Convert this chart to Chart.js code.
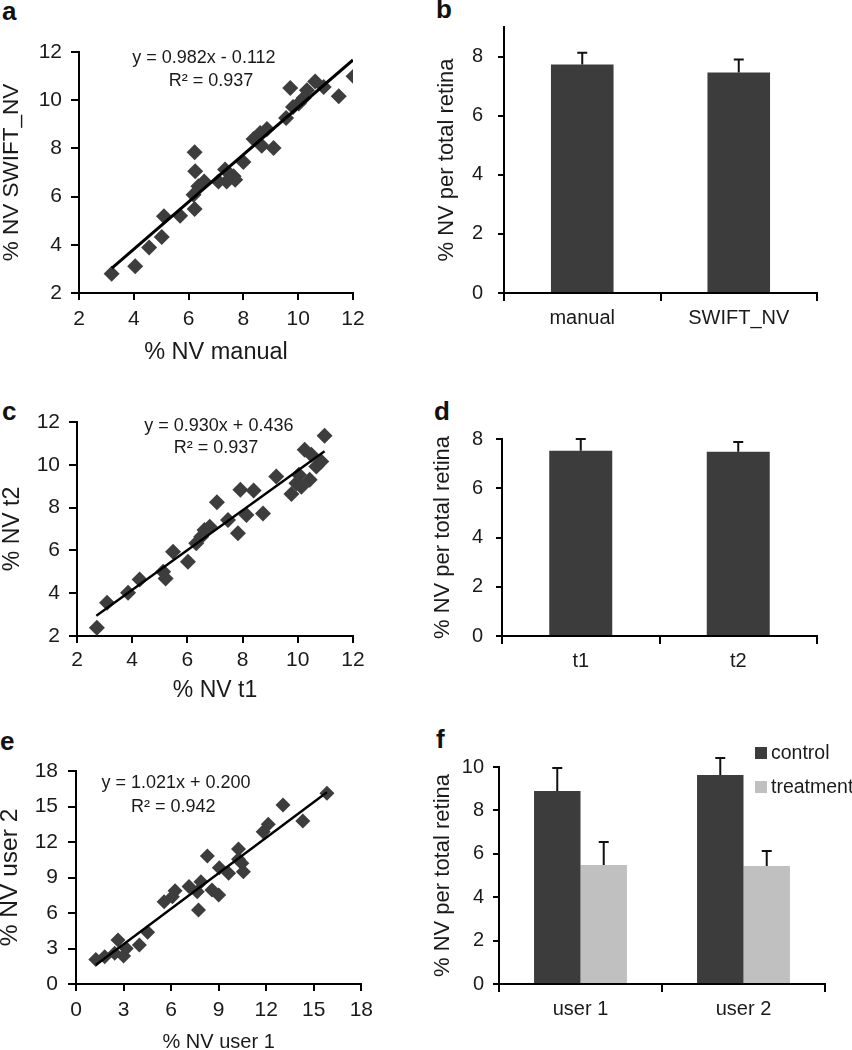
<!DOCTYPE html>
<html>
<head>
<meta charset="utf-8">
<script src="https://cdn.jsdelivr.net/npm/chart.js@4.4.0/dist/chart.umd.min.js"></script>
<style>
  body { margin: 0; background: #fff; width: 852px; height: 1050px; position: relative; overflow: hidden; font-family: "Liberation Sans", Arial, sans-serif; }
  .panel { position: absolute; }
  .tag { position: absolute; font-weight: bold; font-size: 26px; line-height: 1; color: #111; }
</style>
</head>
<body>
<div class="tag" style="left:2px;top:-2px">a</div>
<div class="tag" style="left:436px;top:-4px">b</div>
<div class="tag" style="left:2px;top:398px">c</div>
<div class="tag" style="left:434px;top:398px">d</div>
<div class="tag" style="left:0px;top:728px">e</div>
<div class="tag" style="left:436px;top:726px">f</div>

<div class="panel" style="left:0;top:0;width:372px;height:368px"><canvas id="chartA"></canvas></div>
<div class="panel" style="left:430px;top:0;width:422px;height:340px"><canvas id="chartB"></canvas></div>
<div class="panel" style="left:0;top:340px;width:372px;height:365px"><canvas id="chartC"></canvas></div>
<div class="panel" style="left:430px;top:340px;width:422px;height:360px"><canvas id="chartD"></canvas></div>
<div class="panel" style="left:0;top:700px;width:380px;height:350px"><canvas id="chartE"></canvas></div>
<div class="panel" style="left:430px;top:700px;width:422px;height:350px"><canvas id="chartF"></canvas></div>

<script>
// a: manual vs SWIFT_NV
const manualX = [3.19, 4.05, 4.56, 5.02, 5.10, 5.69, 6.22, 6.22, 6.24, 6.18, 6.36, 6.57, 7.09, 7.33, 7.39, 7.64, 7.70,
  8.00, 8.37, 8.67, 8.61, 8.86, 9.10, 9.56, 9.71, 9.81, 10.02, 10.20, 10.32, 10.62, 10.93, 11.48, 12.02];
const swiftY = [2.80, 3.11, 3.89, 4.32, 5.18, 5.21, 5.49, 7.84, 7.05, 6.08, 6.43, 6.63, 6.63, 7.12, 6.63, 6.84, 6.70,
  7.44, 8.39, 8.11, 8.64, 8.80, 8.02, 9.26, 10.51, 9.72, 9.86, 10.09, 10.41, 10.78, 10.55, 10.16, 10.99];
const fitAX = [3.2, 12.0];
const fitAY = [3.03, 11.67];

// c: t1 vs t2
const t1X = [2.72, 3.09, 3.85, 4.27, 5.12, 5.21, 5.48, 6.02, 6.32, 6.50, 6.62, 6.81, 7.07, 7.47, 7.83, 7.92, 8.14,
  8.40, 8.74, 9.22, 9.77, 9.95, 10.04, 10.25, 10.49, 10.43, 10.67, 10.85, 10.97, 10.13];
const t2Y = [2.39, 3.55, 4.02, 4.64, 5.00, 4.69, 5.94, 5.47, 6.33, 6.64, 6.95, 7.11, 8.25, 7.42, 6.80, 8.83, 7.66,
  8.80, 7.73, 9.45, 8.63, 9.14, 9.53, 10.70, 10.47, 9.30, 9.92, 10.16, 11.36, 8.98];
const fitCX = [2.7, 10.97];
const fitCY = [2.95, 10.63];

// e: user 1 vs user 2
const user1X = [1.25, 1.81, 2.65, 2.44, 3.00, 3.17, 4.00, 4.52, 5.56, 6.25, 6.08, 7.13, 7.65, 7.73, 7.88, 8.29, 8.58,
  9.00, 9.04, 9.63, 10.25, 10.46, 10.56, 10.25, 11.81, 12.13, 13.06, 14.31, 15.83];
const user2Y = [2.08, 2.31, 3.72, 2.59, 2.37, 3.01, 3.30, 4.37, 6.96, 7.89, 7.38, 8.23, 7.80, 6.25, 8.65, 10.82, 7.94,
  7.52, 9.83, 9.35, 11.41, 10.20, 9.49, 10.54, 12.87, 13.49, 15.13, 13.77, 16.11];
const fitEX = [1.25, 15.83];
const fitEY = [1.6, 16.2];

// bars
const methodLabels = ['manual', 'SWIFT_NV'];
const methodMeans = [7.73, 7.46];
const methodErr = [0.40, 0.44];

const timeLabels = ['t1', 't2'];
const timeMeans = [7.52, 7.48];
const timeErr = [0.48, 0.40];

const userLabels = ['user 1', 'user 2'];
const controlMeans = [8.89, 9.63];
const controlErr = [1.06, 0.79];
const treatmentMeans = [5.48, 5.44];
const treatmentErr = [1.06, 0.69];

// tick labels
const ticksA = [2, 4, 6, 8, 10, 12];
const ticksC = [2, 4, 6, 8, 10, 12];
const ticksE = [0, 3, 6, 9, 12, 15, 18];
const ticksB = [0, 2, 4, 6, 8];
const ticksD = [0, 2, 4, 6, 8];
const ticksF = [0, 2, 4, 6, 8, 10];

const INK = '#1a1a1a';
const DARK = '#3c3c3c';
const LIGHT = '#c0c0c0';
const FONT = '"Liberation Sans", Arial, sans-serif';

Chart.defaults.font.family = FONT;
Chart.defaults.color = INK;
Chart.defaults.animation = false;
Chart.defaults.plugins.legend.display = false;
Chart.defaults.plugins.tooltip.enabled = false;

const pairs = (xs, ys) => xs.map((x, i) => ({ x: x, y: ys[i] }));

// error bars (upper only) drawn from each dataset's errors array
const errorBars = {
  id: 'errorBars',
  afterDatasetsDraw(chart) {
    const ctx = chart.ctx, y = chart.scales.y;
    chart.data.datasets.forEach((ds, i) => {
      if (!ds.errors) return;
      chart.getDatasetMeta(i).data.forEach((bar, j) => {
        const top = y.getPixelForValue(ds.data[j] + ds.errors[j]);
        ctx.save();
        ctx.strokeStyle = '#111';
        ctx.lineWidth = 2;
        ctx.beginPath();
        ctx.moveTo(bar.x, bar.y);
        ctx.lineTo(bar.x, top);
        ctx.moveTo(bar.x - 5, top);
        ctx.lineTo(bar.x + 5, top);
        ctx.stroke();
        ctx.restore();
      });
    });
  }
};

// regression equation text
const fitLabel = {
  id: 'fitLabel',
  afterDatasetsDraw(chart, args, opts) {
    if (!opts.lines) return;
    const ctx = chart.ctx;
    ctx.save();
    ctx.font = opts.size + 'px ' + FONT;
    ctx.fillStyle = INK;
    ctx.textAlign = 'center';
    ctx.textBaseline = 'middle';
    opts.lines.forEach(l => {
      ctx.fillText(l.text, chart.scales.x.getPixelForValue(l.x), chart.scales.y.getPixelForValue(l.y));
    });
    ctx.restore();
  }
};

// legend for panel f, top right
const boxLegend = {
  id: 'boxLegend',
  afterDraw(chart) {
    const ctx = chart.ctx, area = chart.chartArea;
    ctx.save();
    ctx.font = '19.5px ' + FONT;
    ctx.textBaseline = 'middle';
    chart.data.datasets.forEach((ds, i) => {
      const cy = area.top - 14 + i * 34;
      const x0 = area.right - 70;
      ctx.fillStyle = ds.backgroundColor;
      ctx.fillRect(x0, cy - 6, 12, 12);
      ctx.fillStyle = INK;
      ctx.fillText(ds.label, x0 + 16, cy + 1);
    });
    ctx.restore();
  }
};

function axis(o) {
  return {
    type: o.type || 'linear',
    min: o.min,
    max: o.max,
    afterBuildTicks: o.ticks ? (s => { s.ticks = o.ticks.map(v => ({ value: v })); }) : undefined,
    afterFit: o.horizontal ? (s => { s.height = o.size; }) : (s => { s.width = o.size; }),
    grid: { offset: !!o.offset, drawOnChartArea: false, drawTicks: true, tickLength: o.tickLength || 7, color: '#000', lineWidth: 2 },
    border: { display: true, color: '#000', width: 2 },
    ticks: { color: INK, font: { size: o.tickSize }, padding: o.pad, autoSkip: false, maxRotation: 0 },
    title: { display: !!o.title, text: o.title || '', color: INK, font: { size: o.titleSize, lineHeight: 1 },
      padding: o.titlePad || { top: 0, bottom: 0 } }
  };
}

function scatterPanel(id, pts, fit, radius, fitWidth, pad, xAx, yAx, eq) {
  new Chart(document.getElementById(id), {
    type: 'scatter',
    data: {
      datasets: [
        { data: fit, showLine: true, borderColor: '#000', borderWidth: fitWidth, pointRadius: 0, order: 0 },
        { data: pts, pointStyle: 'rectRot', pointRadius: radius, backgroundColor: '#3d3d3d', borderWidth: 0, order: 1 }
      ]
    },
    options: {
      responsive: true,
      maintainAspectRatio: false,
      layout: { padding: pad },
      scales: { x: axis(xAx), y: axis(yAx) },
      plugins: { fitLabel: eq }
    },
    plugins: [fitLabel]
  });
}

function barPanel(id, labels, datasets, catPct, pad, xAx, yAx, extra) {
  new Chart(document.getElementById(id), {
    type: 'bar',
    data: { labels: labels, datasets: datasets },
    options: {
      responsive: true,
      maintainAspectRatio: false,
      layout: { padding: pad },
      datasets: { bar: { barPercentage: 1, categoryPercentage: catPct } },
      scales: { x: axis(xAx), y: axis(yAx) }
    },
    plugins: [errorBars].concat(extra || [])
  });
}

document.addEventListener('DOMContentLoaded', () => {
  // a
  scatterPanel('chartA', pairs(manualX, swiftY), pairs(fitAX, fitAY), 8, 3,
    { top: 52, right: 19, left: 0, bottom: 0 },
    { horizontal: true, min: 2, max: 12, ticks: ticksA, size: 75, tickSize: 21, pad: 7,
      title: '% NV manual', titleSize: 23.5, titlePad: { top: 0, bottom: 4 } },
    { min: 2, max: 12, ticks: ticksA, size: 79, tickSize: 21, pad: 9, tickLength: 8,
      title: '% NV SWIFT_NV', titleSize: 22.5, titlePad: { top: 1, bottom: 0 } },
    { size: 18, lines: [{ text: 'y = 0.982x - 0.112', x: 6.56, y: 11.75 }, { text: 'R\u00b2 = 0.937', x: 6.82, y: 10.8 }] });

  // c
  scatterPanel('chartC', pairs(t1X, t2Y), pairs(fitCX, fitCY), 8, 2.4,
    { top: 82, right: 19, left: 0, bottom: 0 },
    { horizontal: true, min: 2, max: 12, ticks: ticksC, size: 69, tickSize: 21, pad: 5,
      title: '% NV t1', titleSize: 23, titlePad: { top: 0, bottom: 3 } },
    { min: 2, max: 12, ticks: ticksC, size: 77, tickSize: 21, pad: 9, tickLength: 8,
      title: '% NV t2', titleSize: 23, titlePad: { top: 1, bottom: 0 } },
    { size: 18, lines: [{ text: 'y = 0.930x + 0.436', x: 7.14, y: 11.81 }, { text: 'R\u00b2 = 0.937', x: 7.04, y: 10.79 }] });

  // e
  scatterPanel('chartE', pairs(user1X, user2Y), pairs(fitEX, fitEY), 7.5, 2.4,
    { top: 71, right: 16, left: 0, bottom: 0 },
    { horizontal: true, min: 0, max: 18, ticks: ticksE, size: 66, tickSize: 21, pad: 7,
      title: '% NV user 1', titleSize: 20, titlePad: { top: 0, bottom: -2 } },
    { min: 0, max: 18, ticks: ticksE, size: 76, tickSize: 21, pad: 10, tickLength: 8,
      title: '% NV user 2', titleSize: 24.5, titlePad: { top: -2, bottom: 0 } },
    { size: 18, lines: [{ text: 'y = 1.021x + 0.200', x: 6.31, y: 16.99 }, { text: 'R\u00b2 = 0.942', x: 6.13, y: 14.96 }] });

  // b
  barPanel('chartB', methodLabels,
    [{ data: methodMeans, errors: methodErr, backgroundColor: DARK }], 0.4,
    { top: 26, right: 35, left: 0, bottom: 0 },
    { type: 'category', horizontal: true, offset: true, tickLength: 8, size: 47, tickSize: 20, pad: 5 },
    { min: 0, max: 9, ticks: ticksB, size: 74, tickSize: 20, pad: 15, tickLength: 6,
      title: '% NV per total retina', titleSize: 22, titlePad: { top: 6, bottom: 0 } });

  // d
  barPanel('chartD', timeLabels,
    [{ data: timeMeans, errors: timeErr, backgroundColor: DARK }], 0.4,
    { top: 99, right: 35, left: 0, bottom: 0 },
    { type: 'category', horizontal: true, offset: true, tickLength: 8, size: 64, tickSize: 20, pad: 5 },
    { min: 0, max: 8, ticks: ticksD, size: 72, tickSize: 20, pad: 13, tickLength: 6,
      title: '% NV per total retina', titleSize: 22, titlePad: { top: 2, bottom: 0 } });

  // f
  barPanel('chartF', userLabels,
    [
      { label: 'control', data: controlMeans, errors: controlErr, backgroundColor: DARK },
      { label: 'treatment', data: treatmentMeans, errors: treatmentErr, backgroundColor: LIGHT }
    ], 0.57,
    { top: 67, right: 27, left: 0, bottom: 0 },
    { type: 'category', horizontal: true, offset: true, tickLength: 8, size: 66, tickSize: 20, pad: 5 },
    { min: 0, max: 10, ticks: ticksF, size: 69, tickSize: 20, pad: 9, tickLength: 6,
      title: '% NV per total retina', titleSize: 22, titlePad: { top: 2, bottom: 0 } },
    [boxLegend]);
});
</script>
</body>
</html>
